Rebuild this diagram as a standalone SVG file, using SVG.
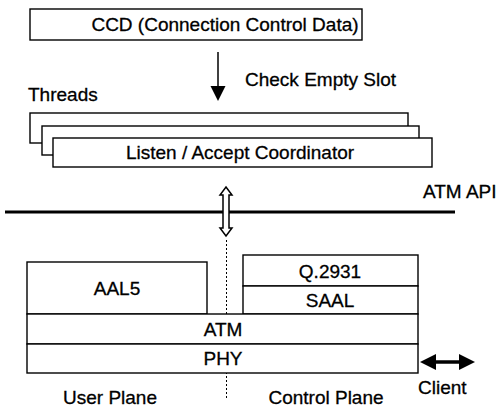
<svg xmlns="http://www.w3.org/2000/svg" width="499" height="407" viewBox="0 0 499 407">
<style>
.box{fill:#fff;stroke:#000;stroke-width:1.4}
.t{font-family:"Liberation Sans",Arial,sans-serif;font-size:19px;fill:#000;stroke:#000;stroke-width:0.3}
.c{text-anchor:middle}
</style>
<rect width="499" height="407" fill="#fff"/>

<g id="connectors">
<line x1="226.5" y1="240" x2="226.5" y2="400" stroke="#000" stroke-width="1" stroke-dasharray="2,2"/>
<line x1="5" y1="212" x2="455" y2="212" stroke="#000" stroke-width="3"/>
<line x1="218" y1="52" x2="218" y2="88" stroke="#000" stroke-width="1.5"/>
<polygon points="210.5,86 225.5,86 218,101" fill="#000"/>
<polygon points="226,187 232,195 229,195 229,228 232,228 226,236 220,228 223,228 223,195 220,195" fill="#fff" stroke="#000" stroke-width="1.5"/>
<line x1="434" y1="362" x2="460" y2="362" stroke="#000" stroke-width="3.5"/>
<polygon points="420,362 436,354 436,370" fill="#000"/>
<polygon points="475,362 459,354 459,370" fill="#000"/>
</g>

<g id="ccd">
<rect class="box" x="30" y="9" width="332" height="31"/>
<text class="t c" x="225" y="31">CCD (Connection Control Data)</text>
</g>
<g id="check-label"><text class="t" x="245" y="86">Check Empty Slot</text></g>
<g id="threads-label"><text class="t" x="28" y="101">Threads</text></g>
<g id="thread1"><rect class="box" x="30" y="113" width="378" height="30"/></g>
<g id="thread2"><rect class="box" x="42" y="126" width="377" height="29"/></g>
<g id="coordinator">
<rect class="box" x="53" y="138" width="379" height="29"/>
<text class="t c" x="240" y="159">Listen / Accept Coordinator</text>
</g>
<g id="atm-api-label"><text class="t" x="423" y="198">ATM API</text></g>

<g id="aal5">
<rect class="box" x="27" y="262" width="180" height="52"/>
<text class="t c" x="117" y="295">AAL5</text>
</g>
<g id="q2931">
<rect class="box" x="243" y="255" width="175" height="31"/>
<text class="t c" x="330" y="278">Q.2931</text>
</g>
<g id="saal">
<rect class="box" x="243" y="286" width="175" height="28"/>
<text class="t c" x="330" y="307">SAAL</text>
</g>
<g id="atm">
<rect class="box" x="27" y="314" width="391" height="30"/>
<text class="t c" x="223" y="336">ATM</text>
</g>
<g id="phy">
<rect class="box" x="27" y="344" width="391" height="29"/>
<text class="t c" x="223" y="365">PHY</text>
</g>
<g id="client-label"><text class="t" x="418" y="394">Client</text></g>
<g id="user-plane-label"><text class="t c" x="110" y="404">User Plane</text></g>
<g id="control-plane-label"><text class="t c" x="326" y="404">Control Plane</text></g>
</svg>
